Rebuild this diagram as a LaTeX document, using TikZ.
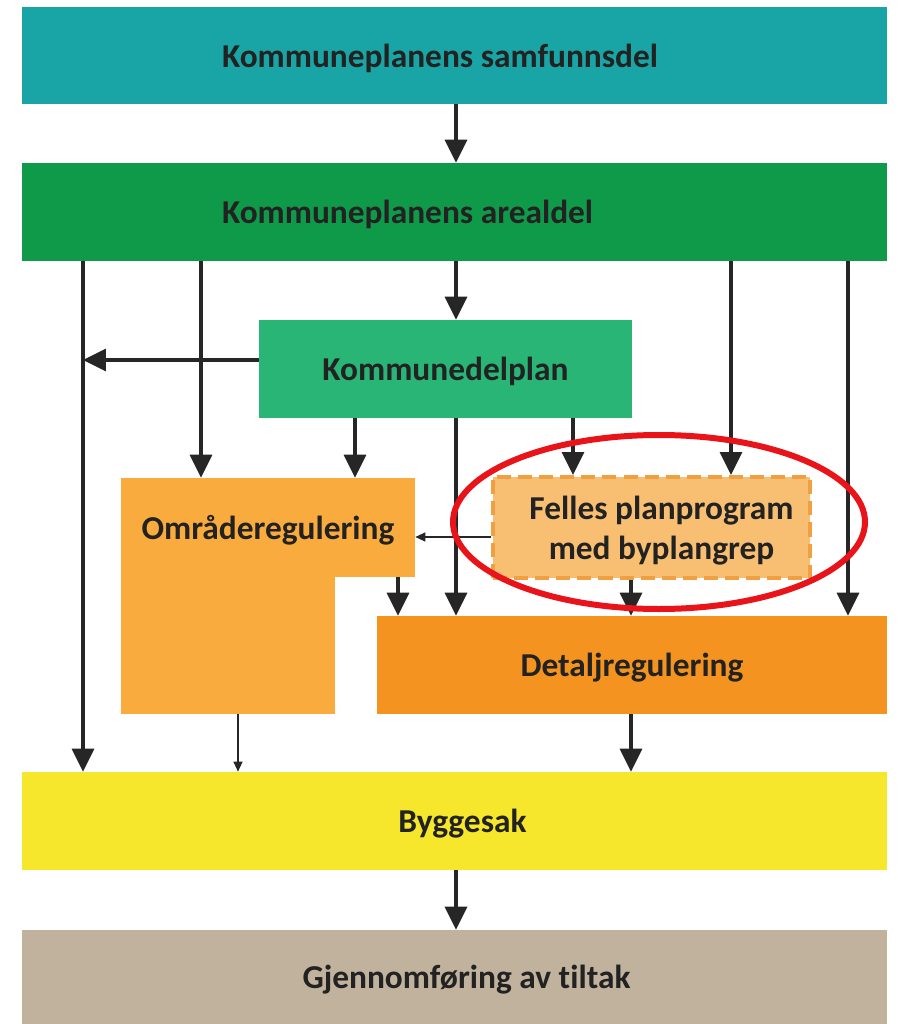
\documentclass[tikz,border=0pt]{standalone}
\usepackage{fontspec}
\setmainfont{Carlito}[Ligatures={NoCommon}]
\usetikzlibrary{arrows.meta,positioning}
\definecolor{samfcol}{HTML}{19A5A5}
\definecolor{arealcol}{HTML}{0F9A4A}
\definecolor{kdpcol}{HTML}{28B575}
\definecolor{omrcol}{HTML}{F9AB3D}
\definecolor{fellescol}{HTML}{F8BE72}
\definecolor{fellesline}{HTML}{F0A040}
\definecolor{detcol}{HTML}{F4931F}
\definecolor{byggcol}{HTML}{F6E62C}
\definecolor{gjencol}{HTML}{C0B29C}
\definecolor{ringcol}{HTML}{E8141A}
\definecolor{txtcol}{HTML}{222222}

\begin{document}
\begin{tikzpicture}[x=0.02cm,y=-0.02cm,
    box/.style={shape=rectangle,inner sep=0pt,text=txtcol,text depth=0pt,font=\fontsize{19}{23}\selectfont\bfseries,align=center},
    arr/.style={line width=1.8pt,draw=black!85,-{Triangle[length=0.46cm,width=0.44cm]}},
    thinarr/.style={line width=0.7pt,draw=black!85,-{Triangle[length=0.2cm,width=0.18cm]}}]
        \useasboundingbox (0,0) rectangle (897,1024);

        \node (samf) at (454.5,55.5) [box,fill=samfcol,minimum width=17.3cm,minimum height=1.94cm,text width=9.3cm,align=flush left] {Kommuneplanens samfunnsdel};
        \node (areal) at (454.5,212) [box,fill=arealcol,minimum width=17.3cm,minimum height=1.96cm,text width=9.3cm,align=flush left] {Kommuneplanens arealdel};
        \node (kdp) at (445.5,369) [box,fill=kdpcol,minimum width=7.46cm,minimum height=1.96cm] {Kommunedelplan};
        \node (omrfot) at (228,642) [box,fill=omrcol,minimum width=4.28cm,minimum height=2.88cm] {};
        \node (omr) at (268,527.5) [box,fill=omrcol,minimum width=5.88cm,minimum height=1.98cm] {Områderegulering};
        \node (felles) at (651.5,527.5) [box,fill=fellescol,draw=fellesline,line width=2.2pt,dash pattern=on 8pt off 4pt,minimum width=6.34cm,minimum height=2.02cm] {\hspace*{0.4cm}Felles planprogram\\\hspace*{0.4cm}med byplangrep};
        \node (detalj) at (632,665) [box,fill=detcol,minimum width=10.2cm,minimum height=1.96cm] {Detaljregulering};
        \node (bygg) at (454.5,821) [box,fill=byggcol,minimum width=17.3cm,minimum height=1.96cm] {\hspace*{0.32cm}Byggesak};
        \node (gjen) at (454.5,977) [box,fill=gjencol,minimum width=17.3cm,minimum height=1.88cm] {\hspace*{0.48cm}Gjennomføring av tiltak};
        \coordinate (venstre) at (83,360);

        \draw[arr] (samf.south -| 456,0) -- (areal.north -| 456,0);
        \draw[arr] (areal.south -| 83,0) -- (bygg.north -| 83,0);
        \draw[arr] (areal.south -| 201,0) -- (omr.north -| 201,0);
        \draw[arr] (areal.south -| 456,0) -- (kdp.north -| 456,0);
        \draw[arr] (areal.south -| 731,0) -- (felles.north -| 731,0);
        \draw[arr] (areal.south -| 848,0) -- (detalj.north -| 848,0);
        \draw[arr] (kdp.west |- venstre) -- (venstre);
        \draw[arr] (kdp.south -| 355,0) -- (omr.north -| 355,0);
        \draw[arr] (kdp.south -| 456,0) -- (detalj.north -| 456,0);
        \draw[arr] (kdp.south -| 573,0) -- (felles.north -| 573,0);
        \draw[thinarr] (felles.west |- 0,537) -- (omr.east |- 0,537);
        \draw[arr] (omr.south -| 398,0) -- (detalj.north -| 398,0);
        \draw[arr] (felles.south -| 631,0) -- (detalj.north -| 631,0);
        \draw[thinarr] (omrfot.south -| 238,0) -- (bygg.north -| 238,0);
        \draw[arr] (detalj.south -| 631,0) -- (bygg.north -| 631,0);
        \draw[arr] (bygg.south -| 456,0) -- (gjen.north -| 456,0);

        % red ring round the new step
        \draw[ringcol,line width=0.12cm] (659,522) ellipse [x radius=206,y radius=87];
    \end{tikzpicture}
\end{document}
